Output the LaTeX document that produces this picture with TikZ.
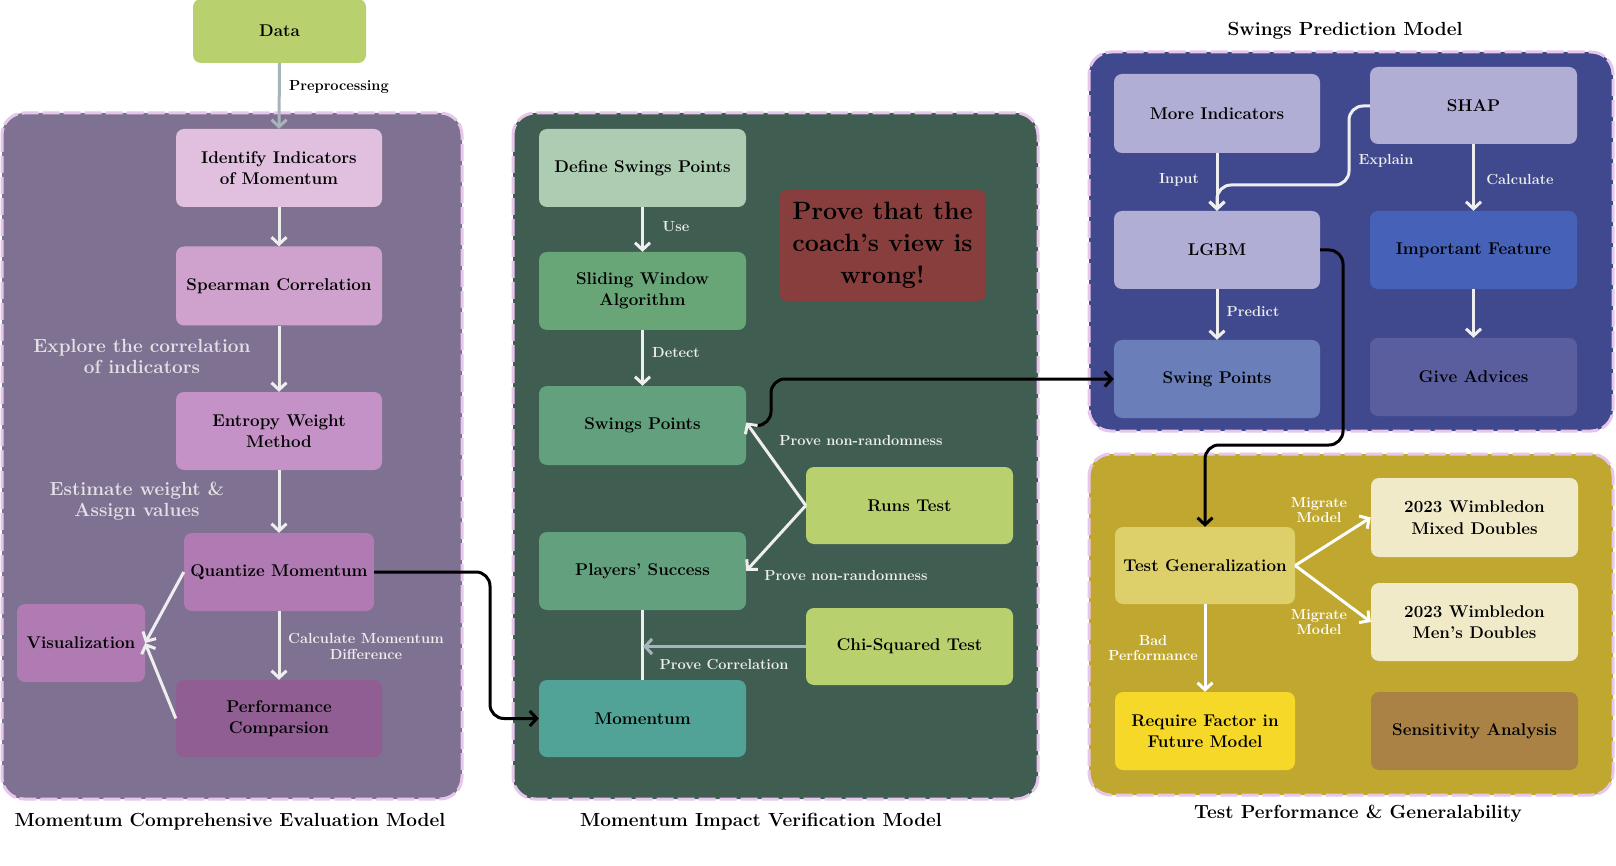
\documentclass[tikz,border=0pt]{standalone}
\usetikzlibrary{arrows.meta}
\definecolor{pLeft}{HTML}{7F7191}
\definecolor{pMid}{HTML}{405D52}
\definecolor{pTop}{HTML}{41498E}
\definecolor{pBot}{HTML}{C0A830}
\definecolor{pBorder}{HTML}{E6C6EA}
\definecolor{cData}{HTML}{B8D06E}
\definecolor{cIdent}{HTML}{E0C0DE}
\definecolor{cSpear}{HTML}{CFA2CD}
\definecolor{cEntropy}{HTML}{C492C6}
\definecolor{cQuant}{HTML}{B07AB2}
\definecolor{cPerf}{HTML}{905E93}
\definecolor{cDefine}{HTML}{ADCDB2}
\definecolor{cSlide}{HTML}{68A577}
\definecolor{cSwing}{HTML}{62A07E}
\definecolor{cMomentum}{HTML}{52A397}
\definecolor{cRed}{HTML}{873E3C}
\definecolor{cLime}{HTML}{B8D16E}
\definecolor{cLav}{HTML}{B1AED6}
\definecolor{cImp}{HTML}{4562B8}
\definecolor{cSwPts}{HTML}{6A7FBA}
\definecolor{cAdv}{HTML}{5A5E9E}
\definecolor{cTest}{HTML}{DDD06A}
\definecolor{cCream}{HTML}{F0EAC8}
\definecolor{cReq}{HTML}{F5D828}
\definecolor{cSens}{HTML}{AA8245}
\definecolor{cWhite}{HTML}{EEEEEE}
\definecolor{cGray}{HTML}{A8B4BC}
\begin{document}
\begin{tikzpicture}[x=1pt,y=-1pt,
  panel/.style={fill=#1, draw=pBorder, line width=3pt, dash pattern=on 17pt off 4pt, rounded corners=22pt},
  box/.style={rounded corners=8pt, inner sep=2pt, align=center, text=black,
    font=\fontsize{17}{21.5}\selectfont\bfseries},
  lab/.style={align=center, text=cWhite, inner sep=1pt, font=\fontsize{14.6}{16}\selectfont\bfseries},
  smlab/.style={align=center, text=white, inner sep=1pt, font=\fontsize{14.4}{15}\selectfont\bfseries},
  biglab/.style={align=center, text=cWhite!90!pLeft, inner sep=1pt, font=\fontsize{19}{21}\selectfont\bfseries},
  captxt/.style={align=center, text=black, font=\fontsize{19}{22}\selectfont\bfseries},
  mytip/.tip={Straight Barb[length=7pt,width=15pt]},
  warr/.style={draw=cWhite, line width=3pt, -mytip},
  garr/.style={draw=cGray, line width=3pt, -mytip},
  barr/.style={draw=black, line width=3pt, -mytip, rounded corners=14pt},
]
\useasboundingbox (0,0) rectangle (1616,866);
\fill[white] (0,0) rectangle (1616,866);

% panels
\draw[panel=pLeft] (2,113) rectangle (462,799);
\draw[panel=pMid] (513,113) rectangle (1038,799);
\draw[panel=pTop] (1089,52) rectangle (1613,431);
\draw[panel=pBot] (1089,454) rectangle (1613,795);

% captions
\node[captxt] (cap1) at (230,822) {Momentum Comprehensive Evaluation Model};
\node[captxt] (cap2) at (761,822) {Momentum Impact Verification Model};
\node[captxt] (cap3) at (1345,31) {Swings Prediction Model};
\node[captxt] (cap4) at (1358,814) {Test Performance \& Generalability};

% left column
\node[box, fill=cData, minimum width=173pt, minimum height=64pt] (data) at (279.5,31) {Data};
\node[box, fill=cIdent, minimum width=206pt, minimum height=78pt] (ident) at (279,168) {Identify Indicators\\of Momentum};
\node[box, fill=cSpear, minimum width=206pt, minimum height=79pt] (spear) at (279,286) {Spearman Correlation};
\node[box, fill=cEntropy, minimum width=206pt, minimum height=78pt] (entropy) at (279,431) {Entropy Weight\\Method};
\node[box, fill=cQuant, minimum width=190pt, minimum height=78pt] (quant) at (279,572) {Quantize Momentum};
\node[box, fill=cQuant, minimum width=128pt, minimum height=78pt] (vis) at (81,643) {Visualization};
\node[box, fill=cPerf, minimum width=206pt, minimum height=77pt] (perf) at (279,718.5) {Performance\\Comparsion};

\node[biglab] (lexplore) at (142,356) {Explore the correlation\\of indicators};
\node[biglab] (lestimate) at (137,501) {Estimate weight \&\\Assign values};

% middle column
\node[box, fill=cDefine, minimum width=207pt, minimum height=78pt] (define) at (642.5,168) {Define Swings Points};
\node[box, fill=cSlide, minimum width=207pt, minimum height=78pt] (slide) at (642.5,291) {Sliding Window\\Algorithm};
\node[box, fill=cSwing, minimum width=207pt, minimum height=79pt] (swingsP) at (642.5,425.5) {Swings Points};
\node[box, fill=cSwing, minimum width=207pt, minimum height=78pt] (players) at (642.5,571) {Players' Success};
\node[box, fill=cMomentum, minimum width=207pt, minimum height=77pt] (momentum) at (642.5,718.5) {Momentum};
\node[box, fill=cRed, minimum width=207pt, minimum height=111pt, font=\fontsize{25}{32}\selectfont\bfseries] (red) at (882.5,245.5) {Prove that the\\coach's view is\\wrong!};
\node[box, fill=cLime, minimum width=207pt, minimum height=77pt] (runs) at (909.5,505.5) {Runs Test};
\node[box, fill=cLime, minimum width=207pt, minimum height=77pt] (chi) at (909.5,646.5) {Chi-Squared Test};

% right top
\node[box, fill=cLav, minimum width=206pt, minimum height=79pt] (more) at (1217,113.5) {More Indicators};
\node[box, fill=cLav, minimum width=207pt, minimum height=77pt] (shap) at (1473.5,105.5) {SHAP};
\node[box, fill=cLav, minimum width=206pt, minimum height=78pt] (lgbm) at (1217,250) {LGBM};
\node[box, fill=cImp, minimum width=207pt, minimum height=78pt] (impf) at (1473.5,250) {Important Feature};
\node[box, fill=cSwPts, minimum width=206pt, minimum height=78pt] (swingpts) at (1217,379) {Swing Points};
\node[box, fill=cAdv, minimum width=207pt, minimum height=78pt] (advice) at (1473.5,377) {Give Advices};

% right bottom
\node[box, fill=cTest, minimum width=180pt, minimum height=77pt] (testgen) at (1205,565.5) {Test Generalization};
\node[box, fill=cCream, minimum width=207pt, minimum height=79pt] (mixed) at (1474.5,517.5) {2023 Wimbledon\\Mixed Doubles};
\node[box, fill=cCream, minimum width=207pt, minimum height=78pt] (mens) at (1474.5,622) {2023 Wimbledon\\Men's Doubles};
\node[box, fill=cReq, minimum width=180pt, minimum height=78pt] (require) at (1205,731) {Require Factor in\\Future Model};
\node[box, fill=cSens, minimum width=207pt, minimum height=78pt] (sens) at (1474.5,731) {Sensitivity Analysis};

% left connectors
\draw[garr] (data.south) -- (ident.north);
\node[lab, text=black] (lpre) at (339,87) {Preprocessing};
\draw[warr] (ident.south) -- (spear.north);
\draw[warr] (spear.south) -- (entropy.north);
\draw[warr] (entropy.south) -- (quant.north);
\draw[warr] (quant.south) -- (perf.north);
\node[lab] (lcalc) at (366,646) {Calculate Momentum\\Difference};
\draw[warr] (quant.west) -- (vis.east);
\draw[warr] (perf.west) -- (vis.east);

% cross connectors
\coordinate (qm1) at (490,572);
\coordinate (qm2) at (490,718.5);
\draw[barr] (quant.east) -- (qm1) -- (qm2) -- (momentum.west);
\coordinate (ss1) at (771,425.5);
\coordinate (ss2) at (771,379);
\draw[barr] (swingsP.east) -- (ss1) -- (ss2) -- (swingpts.west);
\coordinate (lt1) at (1343,250);
\coordinate (lt2) at (1343,445);
\coordinate (lt3) at (1205,445);
\draw[barr] (lgbm.east) -- (lt1) -- (lt2) -- (lt3) -- (testgen.north);

% middle connectors
\draw[warr] (define.south) -- (slide.north);
\node[lab] (luse) at (676,227) {Use};
\draw[warr] (slide.south) -- (swingsP.north);
\node[lab] (ldetect) at (676,353) {Detect};
\draw[warr] (runs.west) -- ([yshift=3pt]swingsP.east);
\node[lab] (lnr1) at (861,440) {Prove non-randomness};
\draw[warr] (runs.west) -- (players.east);
\node[lab] (lnr2) at (846,575) {Prove non-randomness};
\draw[draw=cWhite, line width=3pt] (players.south) -- (momentum.north);
\coordinate (chiend) at (643,646.5);
\draw[garr] (chi.west) -- (chiend);
\node[lab] (lcorr) at (724,664) {Prove Correlation};

% right top connectors
\draw[warr] (more.south) -- (lgbm.north);
\node[lab] (linput) at (1179,180) {Input};
\coordinate (sh1) at (1349,106);
\coordinate (sh2) at (1349,185);
\coordinate (sh3) at (1217,185);
\draw[warr, rounded corners=14pt] (shap.west |- sh1) -- (sh1) -- (sh2) -- (sh3) -- (lgbm.north);
\node[lab] (lexplain) at (1386,161) {Explain};
\draw[warr] (shap.south) -- (impf.north);
\node[lab] (lcalc2) at (1520,179) {Calculate};
\draw[warr] (lgbm.south) -- (swingpts.north);
\node[lab] (lpredict) at (1253,311) {Predict};
\draw[warr] (impf.south) -- (advice.north);

% right bottom connectors
\draw[warr, draw=white] (testgen.east) -- (mixed.west);
\draw[warr, draw=white] (testgen.east) -- (mens.west);
\draw[warr, draw=white] (testgen.south) -- (require.north);
\node[smlab] (lmig1) at (1319,510) {Migrate\\Model};
\node[smlab] (lmig2) at (1319,622) {Migrate\\Model};
\node[smlab] (lbad) at (1153,648) {Bad\\Performance};
\end{tikzpicture}
\end{document}
